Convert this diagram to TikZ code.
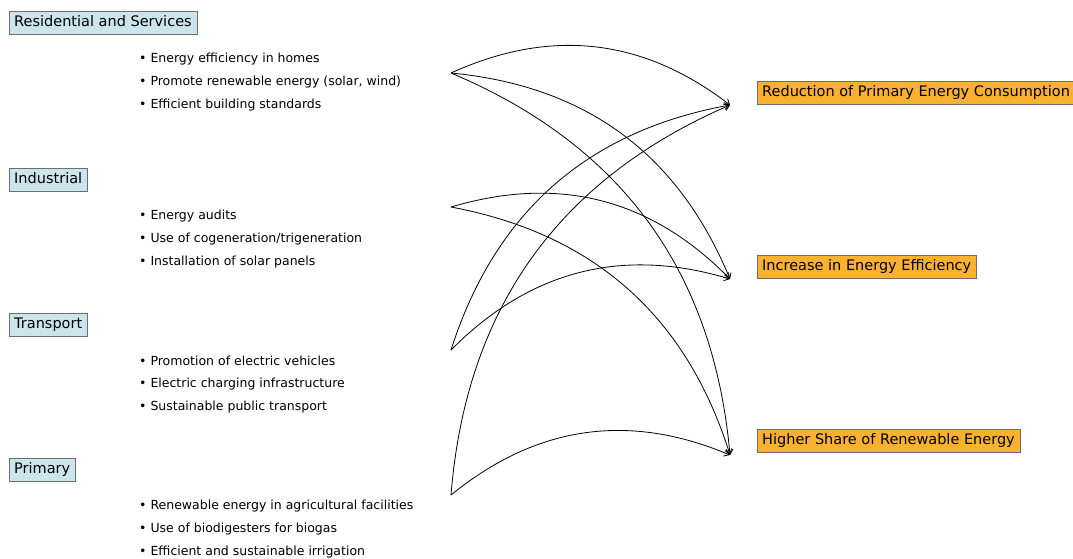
\documentclass[tikz,border=0pt]{standalone}
\usepackage{fontspec}
\setmainfont{DejaVu Sans}
\usepackage{xcolor}
\usetikzlibrary{arrows.meta}
\definecolor{sectorblue}{RGB}{204, 228, 236}
\definecolor{goalorange}{RGB}{251, 177, 48}
\definecolor{edgegray}{RGB}{110, 110, 110}

\begin{document}
\begin{tikzpicture}[x=1pt, y=-1pt,
    sector/.style={draw=edgegray, fill=sectorblue, anchor=west, font=\fontsize{14.5}{17}\selectfont,
        inner xsep=5pt, inner ysep=4.5pt, text height=11pt, text depth=2.5pt},
    goal/.style={draw=edgegray, fill=goalorange, anchor=west, font=\fontsize{14.5}{17}\selectfont,
        inner xsep=5pt, inner ysep=4.5pt, text height=11pt, text depth=2.5pt},
    item/.style={anchor=west, inner sep=0pt, font=\fontsize{12.5}{15}\selectfont},
    flow/.style={line width=0.8pt, -{Straight Barb[length=5pt, width=7pt]}}]
    % Seitenmasse wie im Original (Pixel)
    \useasboundingbox (0,0) rectangle (1073,558);

    % ==========================================
    % LINKS: SEKTOREN MIT MASSNAHMEN
    % ==========================================
    \node[sector] (res) at (9,22.5) {Residential and Services};
    \node[item] (res-1) at (139,59) {• Energy efficiency in homes};
    \node[item] (res-2) at (139,82) {• Promote renewable energy (solar, wind)};
    \node[item] (res-3) at (139,105) {• Efficient building standards};

    \node[sector] (ind) at (9,179.5) {Industrial};
    \node[item] (ind-1) at (139,216) {• Energy audits};
    \node[item] (ind-2) at (139,239) {• Use of cogeneration/trigeneration};
    \node[item] (ind-3) at (139,262) {• Installation of solar panels};

    \node[sector] (trans) at (9,324.5) {Transport};
    \node[item] (trans-1) at (139,361) {• Promotion of electric vehicles};
    \node[item] (trans-2) at (139,384) {• Electric charging infrastructure};
    \node[item] (trans-3) at (139,407) {• Sustainable public transport};

    \node[sector] (prim) at (9,469.5) {Primary};
    \node[item] (prim-1) at (139,506) {• Renewable energy in agricultural facilities};
    \node[item] (prim-2) at (139,529) {• Use of biodigesters for biogas};
    \node[item] (prim-3) at (139,552) {• Efficient and sustainable irrigation};

    % ==========================================
    % RECHTS: ZIELE
    % ==========================================
    \node[goal] (red) at (757,92.5) {Reduction of Primary Energy Consumption};
    \node[goal] (eff) at (757,266.5) {Increase in Energy Efficiency};
    \node[goal] (share) at (757,440.5) {Higher Share of Renewable Energy};

    % Start- und Endpunkte der Pfeile
    \coordinate (res-out) at (451,73);
    \coordinate (ind-out) at (451,207);
    \coordinate (trans-out) at (451,350);
    \coordinate (prim-out) at (451,495);
    \coordinate (red-in) at (730,105);
    \coordinate (eff-in) at (730,279);
    \coordinate (share-in) at (730,455);

    % ==========================================
    % PFEILE (Bogen nach links gekruemmt)
    % ==========================================
    \draw[flow] (res-out) to[bend left=31] (red-in);
    \draw[flow] (res-out) to[bend left=31] (eff-in);
    \draw[flow] (res-out) to[bend left=31] (share-in);
    \draw[flow] (ind-out) to[bend left=31] (eff-in);
    \draw[flow] (ind-out) to[bend left=31] (share-in);
    \draw[flow] (trans-out) to[bend left=31] (red-in);
    \draw[flow] (trans-out) to[bend left=31] (eff-in);
    \draw[flow] (prim-out) to[bend left=31] (red-in);
    \draw[flow] (prim-out) to[bend left=31] (share-in);
\end{tikzpicture}
\end{document}
